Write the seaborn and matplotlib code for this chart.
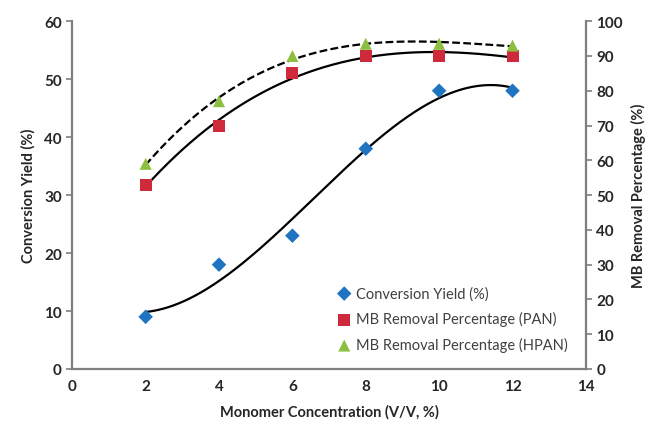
import numpy as np
import pandas as pd
import matplotlib
matplotlib.use("Agg")
import matplotlib.pyplot as plt
import seaborn as sns

conc = [2, 4, 6, 8, 10, 12]
conv_yield = [9, 18, 23, 38, 48, 48]
mb_pan = [53, 70, 85, 90, 90, 90]
mb_hpan = [59, 77, 90, 93.5, 93.5, 93]

sns.set_style("white")
plt.rcParams["font.family"] = ["Lato", "DejaVu Sans"]

gray = "#7f7f7f"
fig = plt.figure(figsize=(6.51, 4.27), dpi=100)
ax = fig.add_axes([0.111, 0.1335, 0.789, 0.8145])
ax2 = ax.twinx()

# Excel-style polynomial trend lines
xs = np.linspace(2, 12, 200)
trend = pd.DataFrame({
    "x": xs,
    "yield": np.polyval(np.polyfit(conc, conv_yield, 3), xs),
    "pan": np.polyval(np.polyfit(conc, mb_pan, 3), xs),
    "hpan": np.polyval(np.polyfit(conc, mb_hpan, 3), xs),
})
df = pd.DataFrame({"x": conc, "yield": conv_yield, "pan": mb_pan, "hpan": mb_hpan})

sns.lineplot(data=trend, x="x", y="yield", ax=ax, color="black", lw=1.6, legend=False)
sns.lineplot(data=trend, x="x", y="pan", ax=ax2, color="black", lw=1.6, legend=False)
sns.lineplot(data=trend, x="x", y="hpan", ax=ax2, color="black", lw=1.6, ls=(0, (3.5, 1.5)), legend=False)

sns.scatterplot(data=df, x="x", y="yield", ax=ax, marker="D", s=55, color="#1f74c2",
                edgecolor="none", label="Conversion Yield (%)", zorder=3)
sns.scatterplot(data=df, x="x", y="pan", ax=ax2, marker="s", s=75, color="#cf2a3c",
                edgecolor="none", label="MB Removal Percentage (PAN)", zorder=3)
sns.scatterplot(data=df, x="x", y="hpan", ax=ax2, marker="^", s=75, color="#8cbf3f",
                edgecolor="none", label="MB Removal Percentage (HPAN)", zorder=4)

ax.set_xlim(0, 14)
ax.set_ylim(0, 60)
ax2.set_ylim(0, 100)
ax.set_xticks(range(0, 15, 2))
ax.set_yticks(range(0, 61, 10))
ax2.set_yticks(range(0, 101, 10))

ax.set_xlabel("Monomer Concentration (V/V, %)", fontsize=10.5, fontweight="bold", color="#262626", labelpad=8)
ax.set_ylabel("Conversion Yield (%)", fontsize=10.5, fontweight="bold", color="#262626", labelpad=6)
ax2.set_ylabel("MB Removal Percentage (%)", fontsize=10.5, fontweight="bold", color="#262626", labelpad=6)

for a in (ax, ax2):
    a.tick_params(axis="both", labelsize=11, colors="#262626", length=4, width=1.2, direction="out")
    for lab in a.get_xticklabels() + a.get_yticklabels():
        lab.set_fontweight("bold")
    for side in a.spines:
        a.spines[side].set_color(gray)
        a.spines[side].set_linewidth(1.6)
    a.spines["top"].set_visible(False)
    a.grid(False)
ax.tick_params(axis="both", color=gray)
ax2.tick_params(axis="y", color=gray)
ax.spines["right"].set_visible(False)
ax2.spines["left"].set_visible(False)
ax2.spines["bottom"].set_visible(False)

h1, l1 = ax.get_legend_handles_labels()
h2, l2 = ax2.get_legend_handles_labels()
if ax2.get_legend():
    ax2.get_legend().remove()
leg = ax.legend(h1 + h2, l1 + l2, loc="lower right", bbox_to_anchor=(0.99, 0.01), frameon=False,
                fontsize=10.5, handletextpad=0.3, labelspacing=0.75, handlelength=1.0)
for t in leg.get_texts():
    t.set_color("#404040")

fig.savefig("out.png", dpi=100)
